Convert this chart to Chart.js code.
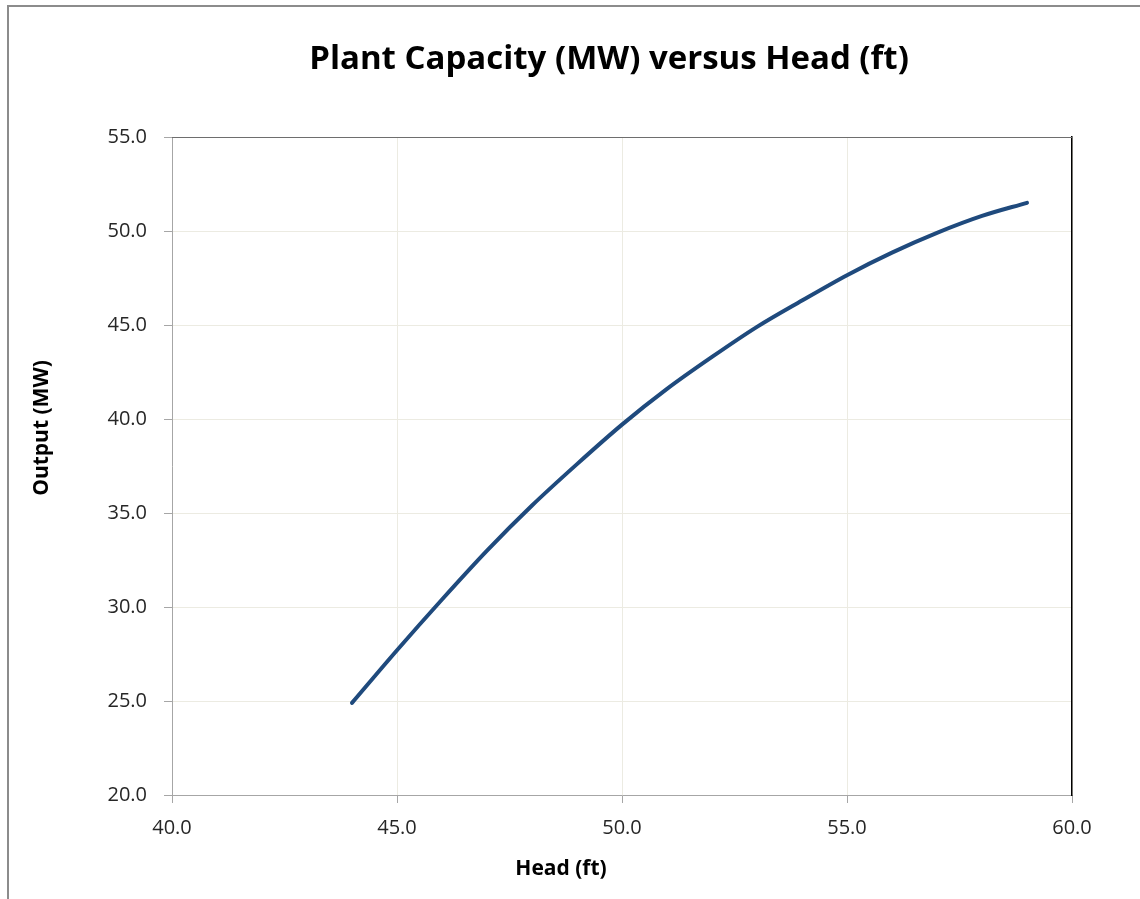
<!DOCTYPE html>
<html>
<head>
<meta charset="utf-8">
<script src="https://cdn.jsdelivr.net/npm/chart.js@4.4.1/dist/chart.umd.min.js"></script>
<style>
  html, body { margin: 0; padding: 0; background: #fff; overflow: hidden; }
  #frame {
    position: absolute; left: 7px; top: 5px; width: 1300px; height: 1000px;
    border-left: 2px solid #8c8c8c; border-top: 2px solid #8c8c8c;
  }
  #chart { position: absolute; left: 0; top: 0; }
</style>
</head>
<body>
<div id="frame"></div>
<canvas id="chart" width="1218" height="899"></canvas>
<script>
// Head (ft) vs plant output (MW)
const heads = [44, 45, 46, 47, 48, 49, 50, 51, 52, 53, 54, 55, 56, 57, 58, 59];
const outputs = [24.9, 27.7, 30.4, 33.0, 35.4, 37.6, 39.7, 41.6, 43.3, 44.9, 46.3, 47.65, 48.85, 49.9, 50.8, 51.5];

const xTicks = [40, 45, 50, 55, 60];
const yTicks = [20, 25, 30, 35, 40, 45, 50, 55];

const xTitle = "Head (ft)";
const yTitle = "Output (MW)";

const gridColor = "#ecebe2";
const axisColor = "#a6a6a6";

// top edge of the plot area + axis titles (they sit off-centre in the original)
const plotFrame = {
  id: "plotFrame",
  afterDraw(chart) {
    const { ctx, chartArea } = chart;
    ctx.save();
    ctx.strokeStyle = "#6e6e6e";
    ctx.lineWidth = 1;
    ctx.beginPath();
    ctx.moveTo(chartArea.left, chartArea.top + 0.5);
    ctx.lineTo(chartArea.right, chartArea.top + 0.5);
    ctx.stroke();

    ctx.fillStyle = "#000";
    ctx.font = "bold 21px 'Open Sans'";
    ctx.textAlign = "center";
    ctx.textBaseline = "middle";
    ctx.fillText(xTitle, chartArea.left + 389, chartArea.bottom + 74);

    ctx.translate(chartArea.left - 130, chartArea.top + 291);
    ctx.rotate(-Math.PI / 2);
    ctx.fillText(yTitle, 0, 0);
    ctx.restore();
  }
};

new Chart(document.getElementById("chart"), {
  type: "line",
  data: {
    datasets: [{
      data: heads.map((h, i) => ({ x: h, y: outputs[i] })),
      borderColor: "#1f4a7d",
      borderWidth: 4,
      borderCapStyle: "round",
      pointRadius: 0,
      cubicInterpolationMode: "monotone",
      fill: false
    }]
  },
  options: {
    responsive: false,
    animation: false,
    layout: { padding: { left: 0, right: 0, top: 20, bottom: 0 } },
    plugins: {
      legend: { display: false },
      tooltip: { enabled: false },
      title: {
        display: true,
        text: "Plant Capacity (MW) versus Head (ft)",
        color: "#000",
        font: { family: "Open Sans", size: 33, weight: "bold" },
        padding: { top: 20, bottom: 137 - 20 - 20 - 33 * 1.2 }
      }
    },
    scales: {
      x: {
        type: "linear",
        min: xTicks[0],
        max: xTicks[xTicks.length - 1],
        afterBuildTicks: s => { s.ticks = xTicks.map(v => ({ value: v })); },
        afterFit: s => { s.height = 104; },
        ticks: {
          color: "#262626",
          font: { family: "Open Sans", size: 20 },
          padding: 13,
          maxRotation: 0,
          callback: v => v.toFixed(1)
        },
        grid: { color: gridColor, tickColor: axisColor, tickLength: 8 },
        border: { color: axisColor, width: 1 }
      },
      y: {
        min: yTicks[0],
        max: yTicks[yTicks.length - 1],
        afterBuildTicks: s => { s.ticks = yTicks.map(v => ({ value: v })); },
        afterFit: s => { s.width = 172; },
        ticks: {
          color: "#262626",
          font: { family: "Open Sans", size: 20 },
          padding: 17,
          callback: v => v.toFixed(1)
        },
        grid: { color: gridColor, tickColor: axisColor, tickLength: 8 },
        border: { color: axisColor, width: 1 }
      },
      // right edge of the plot area, also reserves the right margin
      yRight: {
        position: "right",
        ticks: { display: false },
        grid: { display: false },
        border: { color: "#000", width: 1.5 },
        afterFit: s => { s.width = 146; }
      }
    }
  },
  plugins: [plotFrame]
});
</script>
</body>
</html>
